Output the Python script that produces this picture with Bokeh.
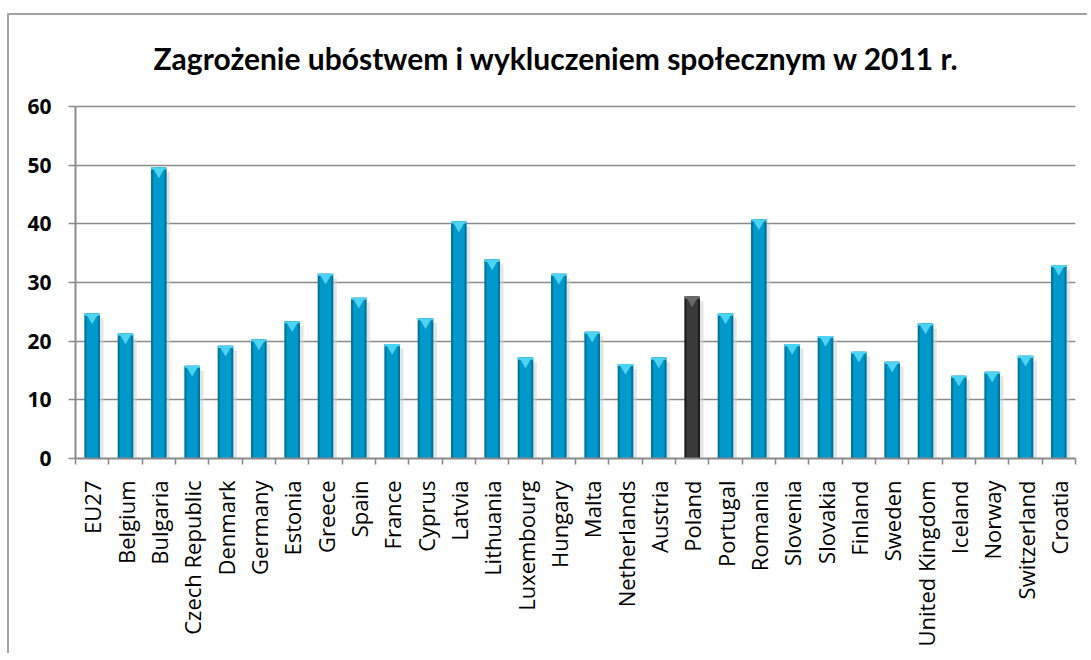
from bokeh.plotting import figure
from bokeh.models import ColumnDataSource, Range1d, FixedTicker, Label
from bokeh.transform import dodge
from bokeh.embed import file_html
from bokeh.resources import INLINE

title_text = "Zagrożenie ubóstwem i wykluczeniem społecznym w 2011 r."

categories = ["EU27", "Belgium", "Bulgaria", "Czech Republic", "Denmark", "Germany",
              "Estonia", "Greece", "Spain", "France", "Cyprus", "Latvia", "Lithuania",
              "Luxembourg", "Hungary", "Malta", "Netherlands", "Austria", "Poland",
              "Portugal", "Romania", "Slovenia", "Slovakia", "Finland", "Sweden",
              "United Kingdom", "Iceland", "Norway", "Switzerland", "Croatia"]

values = [24.7, 21.3, 49.6, 15.8, 19.2, 20.3, 23.4, 31.5, 27.4, 19.5, 23.9, 40.4, 33.9,
          17.2, 31.5, 21.6, 16.1, 17.2, 27.6, 24.7, 40.8, 19.5, 20.9, 18.2, 16.5,
          23.0, 14.1, 14.8, 17.5, 33.0]

y_ticks = [0, 10, 20, 30, 40, 50, 60]
highlight = "Poland"

n = len(categories)
xs = [i + 0.5 for i in range(n)]
is_hl = [c == highlight for c in categories]

src = ColumnDataSource(dict(
    x=xs, top=values, cat=categories,
    edge=["#1e1e1e" if h else "#00779f" for h in is_hl],
    body=["#3a3a3a" if h else "#0099cc" for h in is_hl],
    cap=["#6a6a6a" if h else "#4fd3f2" for h in is_hl],
))

# frame runs from canvas y=3 to y=443 (440 px); 60 units span 352 px -> top = 75
y_max = max(y_ticks)
y_top = y_max * 440 / 352

p = figure(width=1080, height=640,
           x_range=Range1d(0, n), y_range=Range1d(0, y_top),
           output_backend="svg", toolbar_location=None,
           min_border_left=66, min_border_right=14,
           min_border_top=3, min_border_bottom=197)
p.title.visible = False

p.styles = {"border-top": "2px solid #a3a3a3", "border-left": "2px solid #a3a3a3",
            "margin-top": "13px", "margin-left": "7px"}

p.add_layout(Label(x=n * 0.481, y=y_max + 8.2, text=title_text,
                   text_align="center", text_baseline="middle",
                   text_font="Lato", text_font_style="bold", text_font_size="30px",
                   text_color="#000000"))

p.outline_line_color = None
p.background_fill_color = "white"
p.border_fill_color = "white"

# shadow
p.vbar(x=dodge("x", 0.09, range=p.x_range), top=dodge("top", -0.8), bottom=0, width=0.5,
       source=src, fill_color="#cfcfcf", fill_alpha=0.55, line_color=None)
# bar edge and body
p.vbar(x="x", top="top", bottom=0, width=0.47, source=src,
       fill_color="edge", line_color=None)
p.vbar(x="x", top="top", bottom=0, width=0.34, source=src,
       fill_color="body", line_color=None)
# top cap
p.vbar(x="x", top="top", bottom=dodge("top", -0.35), width=0.47, source=src,
       fill_color="cap", line_color=None)
p.scatter(x="x", y=dodge("top", -0.75), source=src, marker="inverted_triangle",
          size=11, fill_color="cap", line_color=None)

# axes
p.xgrid.visible = False
p.ygrid.grid_line_color = "#8a8a8a"
p.ygrid.grid_line_width = 1.6
p.yaxis.ticker = FixedTicker(ticks=y_ticks)
p.yaxis.bounds = (0, y_max)
p.yaxis.axis_line_color = "#8a8a8a"
p.yaxis.axis_line_width = 2
p.yaxis.major_tick_line_color = "#8a8a8a"
p.yaxis.major_tick_line_width = 1.6
p.yaxis.major_tick_out = 7
p.yaxis.major_tick_in = 0
p.yaxis.minor_tick_line_color = None
p.yaxis.major_label_text_font = "Open Sans"
p.yaxis.major_label_text_font_style = "bold"
p.yaxis.major_label_text_font_size = "21px"
p.yaxis.major_label_text_color = "#000000"
p.yaxis.major_label_standoff = 17

p.xaxis.ticker = FixedTicker(ticks=xs, minor_ticks=list(range(n + 1)))
p.xaxis.major_label_overrides = {x: c for x, c in zip(xs, categories)}
p.xaxis.major_label_orientation = 1.5708
p.xaxis.axis_line_color = "#8a8a8a"
p.xaxis.axis_line_width = 2
p.xaxis.major_tick_line_color = None
p.xaxis.major_tick_out = 0
p.xaxis.major_tick_in = 0
p.xaxis.minor_tick_line_color = "#8a8a8a"
p.xaxis.minor_tick_line_width = 1.6
p.xaxis.minor_tick_out = 6
p.xaxis.minor_tick_in = 0
p.xaxis.major_label_text_font = "Open Sans"
p.xaxis.major_label_text_font_size = "22px"
p.xaxis.major_label_text_color = "#000000"
p.xaxis.major_label_standoff = 16

open("out.html", "w").write(file_html(p, INLINE))
